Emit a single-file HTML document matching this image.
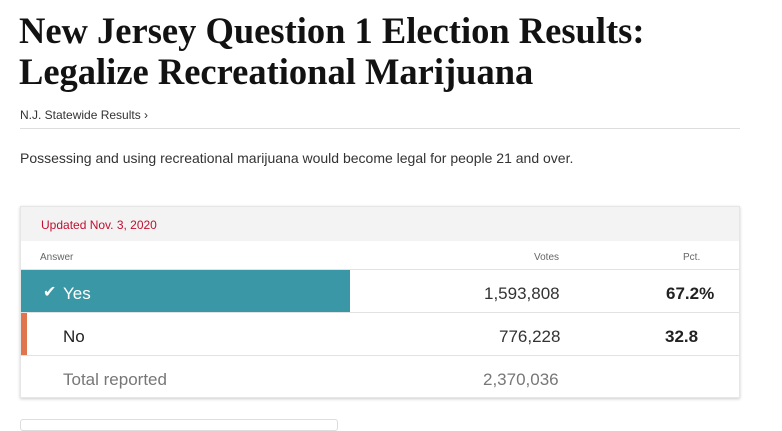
<!DOCTYPE html>
<html><head><style>
body{margin:0;width:782px;height:424px;overflow:hidden;background:#fff;font-family:"Liberation Sans",sans-serif;position:relative}
.a{position:absolute;white-space:nowrap}
h1{position:absolute;left:19px;top:10px;margin:0;font-family:"Liberation Serif",serif;font-weight:bold;font-size:36.5px;line-height:41px;color:#121212;letter-spacing:0}
</style></head><body>
<h1>New Jersey Question 1 Election Results:<br>Legalize Recreational Marijuana</h1>
<div class="a" style="left:20px;top:108px;font-size:12px;color:#333">N.J. Statewide Results ›</div>
<div class="a" style="left:20px;top:128px;width:720px;height:1px;background:#ddd"></div>
<div class="a" style="left:20px;top:150px;font-size:14px;color:#333">Possessing and using recreational marijuana would become legal for people 21 and over.</div>
<div class="a" style="left:20px;top:206px;width:720px;height:192px;box-shadow:0 1px 3px rgba(0,0,0,0.2);border:1px solid #e6e6e6;box-sizing:border-box"></div>
<div class="a" style="left:21px;top:207px;width:718px;height:34px;background:#f3f3f3"></div>
<div class="a" style="left:41px;top:218px;font-size:12px;color:#c0102f">Updated Nov. 3, 2020</div>
<div class="a" style="left:40px;top:252px;font-size:10px;color:#666">Answer</div>
<div class="a" style="left:534px;top:252px;font-size:10px;color:#666">Votes</div>
<div class="a" style="left:683px;top:252px;font-size:10px;color:#666">Pct.</div>
<div class="a" style="left:21px;top:269px;width:718px;height:1px;background:#e2e2e2"></div>
<div class="a" style="left:21px;top:270px;width:329px;height:42px;background:#3a97a6"></div>
<div class="a" style="left:43px;top:282px;font-size:16px;color:#fff">✔</div>
<div class="a" style="left:63px;top:284px;font-size:17px;color:#fff">Yes</div>
<div class="a" style="left:484px;top:284px;font-size:17px;color:#333">1,593,808</div>
<div class="a" style="left:666px;top:284px;font-size:17px;color:#222;font-weight:bold">67.2%</div>
<div class="a" style="left:21px;top:312px;width:718px;height:1px;background:#e2e2e2"></div>
<div class="a" style="left:21px;top:313px;width:6px;height:42px;background:#e0744c"></div>
<div class="a" style="left:63px;top:327px;font-size:17px;color:#222">No</div>
<div class="a" style="left:499px;top:327px;font-size:17px;color:#333">776,228</div>
<div class="a" style="left:665px;top:327px;font-size:17px;color:#222;font-weight:bold">32.8</div>
<div class="a" style="left:21px;top:355px;width:718px;height:1px;background:#e2e2e2"></div>
<div class="a" style="left:63px;top:370px;font-size:17px;color:#777">Total reported</div>
<div class="a" style="left:483px;top:370px;font-size:17px;color:#777">2,370,036</div>
<div class="a" style="left:20px;top:419px;width:316px;height:10px;border:1px solid #ddd;border-radius:3px"></div>
</body></html>
